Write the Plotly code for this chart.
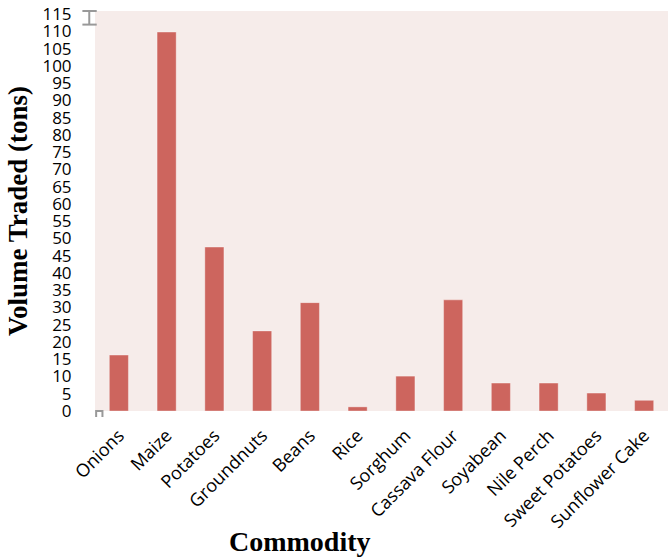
import plotly.graph_objects as go

commodities = ["Onions", "Maize", "Potatoes", "Groundnuts", "Beans", "Rice", "Sorghum",
               "Cassava Flour", "Soyabean", "Nile Perch", "Sweet Potatoes", "Sunflower Cake"]
volumes = [16.2, 109.8, 47.5, 23.2, 31.4, 1.2, 10.1, 32.2, 8.1, 8.1, 5.2, 3.1]
y_ticks = list(range(0, 120, 5))

fig = go.Figure()
fig.add_trace(go.Bar(
    x=commodities, y=volumes,
    marker=dict(color="#cd655e", line=dict(color="rgba(255,255,255,0.35)", width=1)),
))

fig.update_layout(
    width=669, height=558,
    margin=dict(l=95, r=1, t=11, b=147),
    paper_bgcolor="white",
    plot_bgcolor="#f6ecea",
    bargap=0.6,
    showlegend=False,
    font=dict(family="Open Sans", size=16, color="black"),
    xaxis=dict(tickangle=-45, showgrid=False, zeroline=False, showline=False,
               ticks="outside", ticklen=6, tickcolor="rgba(0,0,0,0)",
               tickfont=dict(family="Open Sans", size=18)),
    yaxis=dict(range=[0, 115.9], tickvals=y_ticks, showgrid=False, zeroline=False,
               ticks="outside", ticklen=19, tickcolor="rgba(0,0,0,0)",
               tickfont=dict(family="Open Sans", size=17),
               title=dict(text="Volume Traded (tons)", standoff=6,
                          font=dict(family="Liberation Serif", size=27, weight="bold"))),
    annotations=[dict(text="<b>Commodity</b>", xref="paper", yref="paper",
                      x=(300 - 95) / 573, y=-(541 - 411) / 400, showarrow=False,
                      xanchor="center", yanchor="middle",
                      font=dict(family="Liberation Serif", size=28, color="black"))],
    shapes=[
        dict(type="line", xref="paper", yref="paper", x0=-0.01, x1=-0.01, y0=1.0, y1=0.966,
             line=dict(color="#999999", width=2)),
        dict(type="line", xref="paper", yref="paper", x0=-0.022, x1=0.003, y0=1.0, y1=1.0,
             line=dict(color="#999999", width=2)),
        dict(type="line", xref="paper", yref="paper", x0=-0.022, x1=0.003, y0=0.966, y1=0.966,
             line=dict(color="#999999", width=2)),
        dict(type="path", xref="paper", yref="paper",
             path="M 0.002,-0.015 L 0.002,0.0 L 0.013,0.0 L 0.013,-0.015",
             line=dict(color="#999999", width=2)),
    ],
)

fig.write_html("out.html")
